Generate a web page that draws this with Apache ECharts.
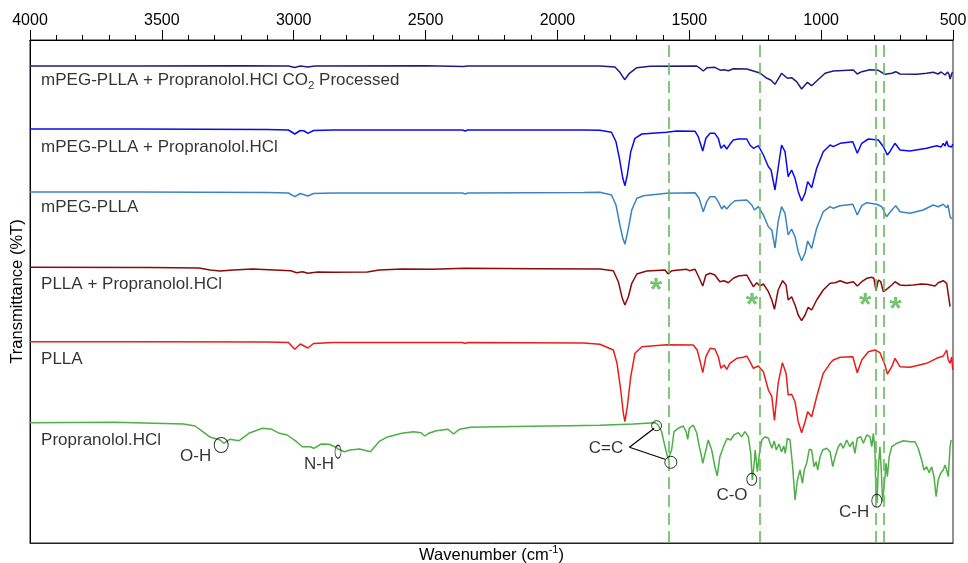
<!DOCTYPE html>
<html><head><meta charset="utf-8">
<script src="https://cdn.jsdelivr.net/npm/echarts@6/dist/echarts.min.js"></script>
<style>html,body{margin:0;padding:0;background:#fff}#c{width:968px;height:563px}</style>
</head><body><div id="c"></div>
<script>
// ---- data (wavenumber cm-1, transmittance in stacked plot units) ----
const seriesNames = [
  'mPEG-PLLA + Propranolol.HCl CO{sub|2} Processed',
  'mPEG-PLLA + Propranolol.HCl',
  'mPEG-PLLA',
  'PLLA + Propranolol.HCl',
  'PLLA',
  'Propranolol.HCl'
];
const wavenumberRange = [500, 4000];
const wavenumberStep = 500;

const co2Processed = [[4000,479],[3600,479],[3200,479.3],[3020,479],[2996,477.5],[2975,479],[2946,478],[2920,479],[2500,479.3],[2355,478.5],[2340,479],[1900,479],
[1839,479],[1782,478],[1763,472.7],[1745,465.3],[1727,471.7],[1699,477.3],[1649,478.7],[1472,479],[1459,476.7],[1447,474],[1432,477.3],[1403,477.7],[1381,474.7],[1368,475.3],[1352,474.3],[1333,476.3],[1282,476],[1257,474],[1232,472],[1206,466.7],[1191,465],[1175,460.7],[1150,471.7],[1128,466.7],[1112,467.3],[1093,463.3],[1074,456],[1052,462.7],[1036,459.3],[1017,464],[985,471.7],[954,474],[878,475],[863,471],[846,473.3],[815,475.3],[783,474.7],[758,470.7],[732,471.7],[717,473.3],[701,471],[638,470.7],[600,471.7],[575,472.7],[557,471],[545,473],[538,472],[530,470],[524,468.3],[520,473],[515,470.7],[511,466],[508,467],[505,471],[502,473]];

const mpegPllaDrug = [[4000,416],[3600,416],[3100,415.5],[3020,415],[2996,411],[2975,414.5],[2960,414],[2946,411.7],[2925,414.5],[2850,415],[2360,415],[2350,414],[2340,415],[1900,415],
[1839,414.7],[1795,412.7],[1778,403.3],[1765,386.7],[1752,366.7],[1744,359.3],[1735,370],[1722,393.3],[1706,406.7],[1680,411],[1586,412.7],[1548,414],[1478,413.7],[1466,408.3],[1449,394],[1437,406.7],[1421,411.7],[1403,411.7],[1390,406.7],[1380,396.7],[1368,400],[1358,396],[1346,400.7],[1333,405],[1314,406],[1282,406],[1270,400],[1257,396.7],[1238,399.3],[1219,390],[1200,378.3],[1190,375],[1175,355],[1163,377],[1150,400],[1137,393.3],[1125,368.3],[1112,375],[1099,366.7],[1087,353.3],[1074,344],[1061,351.7],[1051,363.3],[1036,357.3],[1017,376.7],[992,393.3],[966,400],[954,398.3],[928,401.7],[880,403.3],[863,391.7],[846,401.7],[821,406],[783,405],[764,398.3],[749,390],[740,393],[732,396.7],[720,401.7],[701,395],[663,394],[600,396.7],[562,399.3],[545,398],[537,401.7],[530,399],[524,404],[518,399],[511,400.7],[505,398],[501,401]];

const mpegPlla = [[4000,353],[3600,353],[3100,352.5],[3020,352],[2996,348.3],[2975,351.5],[2946,349],[2925,351.5],[2850,352],[2360,352],[2350,351],[2340,352],[1900,352.5],
[1839,352.7],[1795,350],[1778,340],[1763,320],[1752,306.7],[1744,300.7],[1731,316.7],[1718,335],[1699,346.7],[1674,349.3],[1586,351.7],[1478,352.3],[1463,346.7],[1447,333.3],[1434,343.3],[1421,348.3],[1403,348.3],[1390,343.3],[1377,336],[1368,339.3],[1358,336],[1343,340.7],[1327,344.3],[1282,345],[1263,340],[1253,335],[1238,338.3],[1219,330],[1200,318.3],[1187,315],[1175,297],[1163,323.3],[1150,338.3],[1137,331.7],[1125,310],[1112,316],[1099,308.3],[1087,293.3],[1074,284.3],[1061,291.7],[1051,304],[1036,296.7],[1017,316.7],[992,333.3],[966,338.3],[954,336.7],[928,339.3],[880,340.7],[863,330],[846,339.3],[827,342.3],[789,340.7],[770,338.3],[752,328.3],[732,335],[717,339.3],[701,333.3],[663,331.7],[613,335],[575,340],[556,338.3],[537,340.7],[524,337.3],[519,340],[511,328.3],[505,326]];

const pllaDrug = [[4000,277.7],[3545,277.5],[3359,277],[3317,275],[3279,274],[3229,275],[3156,276],[3011,274.3],[2989,272.3],[2967,273.3],[2946,271.7],[2909,273],[2851,272.7],[2721,273],[2676,275],[2589,276],[2474,275.7],[2350,276.7],[2081,276.3],[1839,276],
[1788,274.3],[1769,263.3],[1754,246.7],[1744,240],[1731,248.3],[1718,261.7],[1699,271],[1661,274],[1592,275],[1580,271],[1567,274.3],[1510,275.7],[1500,274.3],[1478,275.7],[1459,265],[1449,259],[1437,270],[1421,271.7],[1403,270],[1384,263.3],[1368,264.3],[1352,262.3],[1333,266.7],[1314,269],[1282,270],[1270,264.3],[1257,258.3],[1244,262.3],[1232,259],[1219,261],[1200,253.3],[1187,245],[1177,235.7],[1163,255],[1146,264.3],[1133,260],[1125,245],[1112,248.3],[1099,240],[1087,230],[1074,224.3],[1061,230],[1049,237.7],[1036,235],[1017,245],[992,255],[966,261.7],[947,262.3],[928,264.3],[903,261.7],[878,263.3],[863,259],[846,263.3],[827,266.7],[808,267.7],[800,266.7],[792,254.3],[783,265],[774,263.3],[764,253.3],[752,255.7],[732,260],[720,263.3],[701,260],[680,259.5],[651,260],[620,261],[600,260.7],[568,259],[556,262.3],[537,264.3],[524,261.7],[518,260],[511,238.3]];

const plla = [[4000,203.3],[3600,203.3],[3100,203],[3020,202.5],[2996,195.7],[2975,201],[2946,197],[2925,201.5],[2850,202.5],[2360,202.5],[2350,201.5],[2340,202.5],[1900,202],
[1839,200.7],[1788,195],[1774,181.7],[1760,155],[1750,131.7],[1744,123.3],[1735,138.3],[1722,168.3],[1706,191.7],[1680,198.3],[1586,200.3],[1485,200],[1470,195],[1457,181.7],[1449,172.3],[1437,188.3],[1421,196.7],[1403,196],[1390,188.3],[1380,176.7],[1368,180],[1358,175.7],[1346,181.7],[1320,186.7],[1295,187.7],[1282,189],[1270,183.3],[1257,176.7],[1238,179],[1219,173.3],[1200,155],[1187,148.3],[1177,124.5],[1163,161.7],[1147,182.3],[1133,171.7],[1125,150],[1112,150.7],[1099,143.3],[1087,123.3],[1074,112.3],[1061,123.3],[1051,133.3],[1036,128.3],[1017,148.3],[992,171.7],[966,181.7],[954,185],[928,187.7],[880,188.3],[863,172.3],[846,185],[821,193.3],[796,195],[777,192.3],[758,180],[749,171],[732,178.3],[720,186.7],[701,178.3],[663,177.7],[600,181.7],[562,186.7],[537,189],[530,188],[524,195],[518,185],[511,181.7],[505,188],[501,175]];

const propranolol = [[4000,122.3],[3678,122.7],[3417,121],[3374,119],[3345,113.3],[3316,107.7],[3279,105],[3265,101.7],[3243,105.7],[3207,104.3],[3170,111.7],[3119,116.7],[3083,115.7],[3054,111.7],[3025,110],[2989,103.3],[2967,98.3],[2938,98.3],[2924,96.7],[2895,101],[2866,100.7],[2844,98.3],[2829,95.7],[2808,93.3],[2786,95],[2750,96],[2709,93.3],[2677,103.3],[2648,107.7],[2590,111.7],[2546,113.3],[2517,112.3],[2503,109],[2488,111.7],[2459,114.3],[2415,115.7],[2394,111],[2372,115.7],[2329,117.7],[2227,118.3],[2031,119],[2024,117.3],[2017,119],[1839,119.7],[1712,121],[1630,122.3],[1618,120],[1605,113.3],[1592,98.3],[1580,85.7],[1573,84.3],[1567,95],[1558,113.3],[1542,116.7],[1523,119],[1512,113.3],[1506,105.7],[1500,116.7],[1485,120],[1472,112.3],[1462,98.3],[1456,91.7],[1449,81.7],[1437,95],[1428,105],[1415,95],[1403,78.3],[1394,69],[1384,88.3],[1368,100],[1356,106.7],[1343,105],[1331,110],[1314,112.3],[1301,108.3],[1289,113.3],[1276,108.3],[1267,91.7],[1261,65],[1254,81.7],[1250,95],[1242,73.3],[1234,91.7],[1225,105],[1213,108.3],[1200,106.7],[1187,96.7],[1178,104],[1170,95],[1160,101],[1150,93.3],[1142,99],[1136,91.7],[1128,106.7],[1118,105],[1108,78.3],[1099,45],[1090,65],[1080,75],[1071,61.7],[1064,75],[1055,81.7],[1045,95.7],[1036,95],[1027,78.3],[1019,83.3],[1013,75],[1004,88.3],[994,95],[979,96.7],[966,93.3],[956,78.3],[947,88.3],[935,98.3],[926,101.7],[916,96.7],[903,105],[891,98.3],[880,103.3],[872,91.7],[863,106.7],[850,108.3],[840,101.7],[827,110],[815,108.3],[808,98.3],[802,111.7],[796,95],[792,48.3],[788,42],[783,78.3],[777,98.3],[772,75],[767,43.3],[760,61.7],[754,81.7],[749,68.3],[742,88.3],[732,98.3],[713,101.7],[688,104.3],[663,103.3],[644,103.3],[632,96.7],[619,85],[610,75],[600,78.3],[590,72.3],[581,78.3],[572,68.3],[564,48.3],[556,65],[547,71.7],[537,75],[530,80],[524,75],[518,68.3],[511,98.3],[507,105]];

// reference lines (cm-1)
const markerWavenumbers = [1579, 1232, 792, 763];
// label anchor levels for each spectrum name
const nameLevels = [464.3, 397.7, 337.7, 260.7, 186, 105];
const nameWavenumber = 3958;
// peak annotations
const peakLabels = [
  {name:'C=C', value:[1816, 97]},
  {name:'C-O', value:[1338, 50]},
  {name:'C-H', value:[875, 33]},
  {name:'O-H', value:[3372, 89]},
  {name:'N-H', value:[2904, 80.3]}
];
const peakCircles = [
  {value:[1624,119.3], symbolSize:[10,10]},
  {value:[1570,82.7], symbolSize:[12,12]},
  {value:[1263,65.7], symbolSize:[10,12]},
  {value:[789,44.3], symbolSize:[10,13]},
  {value:[3275,100], symbolSize:[14,15]},
  {value:[2832,93.3], symbolSize:[6,13]}
];
const ccConnector = [[1633,116.7],[1727,97.7],[1592,85.7]];
const asterisks = [[1630,260],[1266,245],[837,245],[722,241]];

// ---- chart ----
const FONT = '"Liberation Sans", Arial, sans-serif';
const colors = ['#1c1c80', '#0a0af0', '#3a84c4', '#8b0a0a', '#ec1c1c', '#4daf45'];
const spectra = [co2Processed, mpegPllaDrug, mpegPlla, pllaDrug, plla, propranolol];

const chart = echarts.init(document.getElementById('c'), null, {renderer: 'canvas'});

const plainText = {textBorderWidth: 0, textBorderColor: 'transparent', textShadowBlur: 0, textShadowColor: 'transparent'};

const series = spectra.map((d, i) => ({
  type: 'line', data: d, showSymbol: false, symbol: 'none',
  lineStyle: {color: colors[i], width: 1.5}, z: 3, silent: true
}));
series[5].markLine = {
  silent: true, symbol: 'none', label: {show: false},
  lineStyle: {color: '#66bb5c', type: [12, 6], width: 1.6},
  data: markerWavenumbers.map(w => ({xAxis: w}))
};
series.push({
  type: 'scatter', symbolSize: 0, silent: true, z: 5,
  data: seriesNames.map((n, i) => ({name: n, value: [nameWavenumber, nameLevels[i]]})),
  label: Object.assign({show: true, position: 'right', distance: 0, formatter: p => p.name,
    color: '#000', fontSize: 17, fontFamily: FONT, lineHeight: 22,
    rich: {sub: Object.assign({fontSize: 11.5, fontFamily: FONT, color: '#000', verticalAlign: 'bottom', lineHeight: 12}, plainText)}}, plainText)
});
series.push({
  type: 'scatter', symbolSize: 0, silent: true, z: 5,
  data: peakLabels,
  label: Object.assign({show: true, position: 'inside', formatter: p => p.name,
    color: '#000', fontSize: 17, fontFamily: FONT}, plainText)
});
series.push({
  type: 'scatter', symbol: 'circle', silent: true, z: 6,
  data: peakCircles,
  itemStyle: {color: 'rgba(0,0,0,0)', borderColor: '#000', borderWidth: 1}
});
series.push({
  type: 'line', data: ccConnector, symbol: 'none', silent: true, z: 6,
  lineStyle: {color: '#000', width: 1.2}
});
series.push({
  type: 'scatter', symbolSize: 0, silent: true, z: 6,
  data: asterisks,
  label: Object.assign({show: true, position: 'inside', formatter: '*', offset: [1, 6],
    color: '#55b54c', fontSize: 32, fontWeight: 'bold', fontFamily: FONT}, plainText)
});

chart.setOption({
  animation: false,
  backgroundColor: '#fff',
  grid: {left: 30, right: 15, top: 40, bottom: 20, containLabel: false, outerBoundsMode: 'none',
    show: true, borderColor: '#222', borderWidth: 1},
  xAxis: [{
    type: 'value', position: 'top', inverse: true,
    min: wavenumberRange[0], max: wavenumberRange[1], interval: wavenumberStep,
    axisLine: {show: true, lineStyle: {color: '#000', width: 1.2}},
    axisTick: {show: true, length: 10, lineStyle: {color: '#000'}},
    minorTick: {show: true, splitNumber: 5, length: 5, lineStyle: {color: '#000'}},
    axisLabel: {color: '#000', fontSize: 16, fontFamily: FONT, margin: 11, formatter: v => String(v)},
    splitLine: {show: false}
  }, {
    type: 'value', position: 'bottom', inverse: true,
    min: wavenumberRange[0], max: wavenumberRange[1],
    axisLine: {show: true, lineStyle: {color: '#222'}},
    axisTick: {show: false}, axisLabel: {show: false}, splitLine: {show: false},
    name: 'Wavenumber (cm{sup|-1})', nameLocation: 'middle', nameGap: 1,
    nameTextStyle: {color: '#000', fontSize: 16.5, fontFamily: FONT, verticalAlign: 'top', lineHeight: 22,
      rich: {sup: {fontSize: 11, fontFamily: FONT, color: '#000', verticalAlign: 'top', lineHeight: 10}}}
  }],
  yAxis: [{
    type: 'value', min: 2, max: 505,
    axisLine: {show: true, lineStyle: {color: '#000'}},
    axisTick: {show: false}, axisLabel: {show: false}, splitLine: {show: false},
    name: 'Transmittance (%T)', nameLocation: 'middle', nameGap: 4, nameRotate: 90,
    nameTextStyle: {color: '#000', fontSize: 16.5, fontFamily: FONT}
  }],
  series: series
});
</script>
</body></html>
